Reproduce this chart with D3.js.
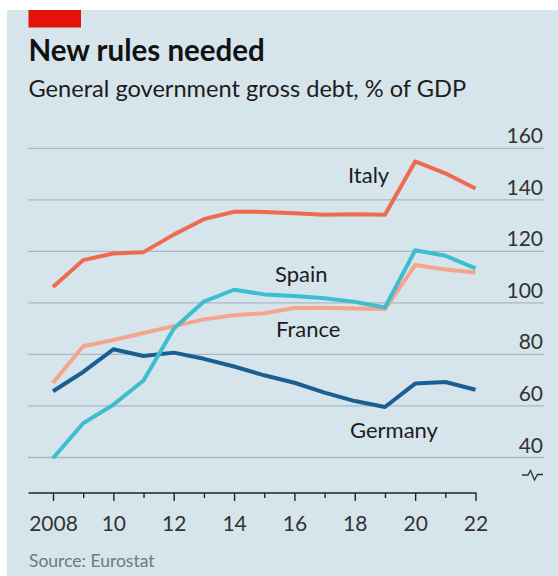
<!DOCTYPE html>
<html>
<head>
<meta charset="utf-8">
<script src="https://cdn.jsdelivr.net/npm/d3@7"></script>
<style>
  html, body { margin: 0; padding: 0; background: #ffffff; }
  svg { display: block; }
  text { font-family: Lato, "Open Sans", sans-serif; }
</style>
</head>
<body>
<svg id="chart" width="558" height="576"></svg>
<script>
// General government gross debt, % of GDP (Eurostat)
const years = d3.range(2008, 2023);
const italy   = [106.2, 116.6, 119.2, 119.7, 126.5, 132.5, 135.4, 135.3, 134.8, 134.2, 134.4, 134.2, 154.9, 150.3, 144.4];
const spain   = [39.7, 53.3, 60.5, 69.9, 90.0, 100.5, 105.1, 103.3, 102.7, 101.8, 100.4, 98.2, 120.4, 118.3, 113.4];
const france  = [69.0, 83.2, 85.6, 88.3, 91.0, 93.6, 95.2, 96.0, 98.0, 98.1, 97.8, 97.6, 114.7, 113.0, 111.8];
const germany = [65.7, 73.2, 82.0, 79.4, 80.7, 78.3, 75.3, 71.9, 69.0, 65.2, 61.9, 59.6, 68.7, 69.3, 66.3];
const yTicks = [40, 60, 80, 100, 120, 140, 160];
const xLabels = {2008: "2008", 2010: "10", 2012: "12", 2014: "14", 2016: "16", 2018: "18", 2020: "20", 2022: "22"};

const series = [
  { name: "Germany", values: germany, color: "#1a5f94", lx: 350, ly: 438 },
  { name: "France",  values: france,  color: "#f6a58d", lx: 276, ly: 337 },
  { name: "Spain",   values: spain,   color: "#3dbdd0", lx: 275, ly: 282 },
  { name: "Italy",   values: italy,   color: "#ef6a4e", lx: 348, ly: 183 }
];

const svg = d3.select("#chart");

// panel background
svg.append("rect").attr("x", 7).attr("y", 10).attr("width", 551).attr("height", 566)
  .attr("fill", "#d6e4ec");
// red tag
svg.append("rect").attr("x", 28.5).attr("y", 10).attr("width", 52.5).attr("height", 17.5)
  .attr("fill", "#e3120b");

svg.append("text").attr("x", 28.5).attr("y", 61)
  .attr("font-size", 29.5).attr("font-weight", 700).attr("fill", "#111")
  .text("New rules needed");
svg.append("text").attr("x", 28.5).attr("y", 97)
  .attr("font-size", 23.6).attr("fill", "#1c1c1c")
  .text("General government gross debt, % of GDP");

const x = d3.scaleLinear().domain([2008, 2022]).range([53, 475.5]);
const y = d3.scaleLinear().domain([40, 160]).range([457.5, 148.3]);

// horizontal gridlines and right-hand labels
const grid = svg.append("g");
grid.selectAll("line").data(yTicks).join("line")
  .attr("x1", 28).attr("x2", 544)
  .attr("y1", d => y(d)).attr("y2", d => y(d))
  .attr("stroke", "#a9b8c2").attr("stroke-width", 1.3);
grid.selectAll("text").data(yTicks).join("text")
  .attr("x", 543).attr("y", d => y(d) - 5)
  .attr("text-anchor", "end").attr("font-size", 21).attr("fill", "#333")
  .text(d => d);

// axis-break mark below the 40 line
svg.append("path")
  .attr("d", "M522,475 L528,475 L530.5,470.5 L534.5,480 L537.5,474.5 L543,474.5")
  .attr("fill", "none").attr("stroke", "#333").attr("stroke-width", 1.4)
  .attr("stroke-linejoin", "miter");

// x axis
const xAxis = d3.axisBottom(x)
  .tickValues(years)
  .tickSizeOuter(0)
  .tickSize(8)
  .tickFormat(d => xLabels[d] || "");
const gx = svg.append("g").attr("transform", "translate(0,493)").call(xAxis);
gx.select(".domain").remove();
gx.append("line").attr("x1", 28.5).attr("x2", x(2022) + 1).attr("y1", 0).attr("y2", 0)
  .attr("stroke", "#222").attr("stroke-width", 1.6);
gx.selectAll(".tick line")
  .attr("stroke", "#222").attr("stroke-width", 1.4)
  .attr("y2", d => (d % 2 === 0 ? 8 : 5));
gx.selectAll(".tick text")
  .attr("y", 37.5).attr("dy", 0)
  .attr("font-family", "Lato, 'Open Sans', sans-serif")
  .attr("font-size", 21).attr("fill", "#333");

// lines
const line = d3.line().x((d, i) => x(years[i])).y(d => y(d));
svg.append("g").selectAll("path").data(series).join("path")
  .attr("d", d => line(d.values))
  .attr("fill", "none").attr("stroke", d => d.color)
  .attr("stroke-width", 4).attr("stroke-linejoin", "round");

svg.append("g").selectAll("text").data(series).join("text")
  .attr("x", d => d.lx).attr("y", d => d.ly)
  .attr("font-size", 22).attr("fill", "#1c1c1c")
  .text(d => d.name);

svg.append("text").attr("x", 29).attr("y", 567)
  .attr("font-size", 17.5).attr("fill", "#6b7a83")
  .text("Source: Eurostat");
</script>
</body>
</html>
